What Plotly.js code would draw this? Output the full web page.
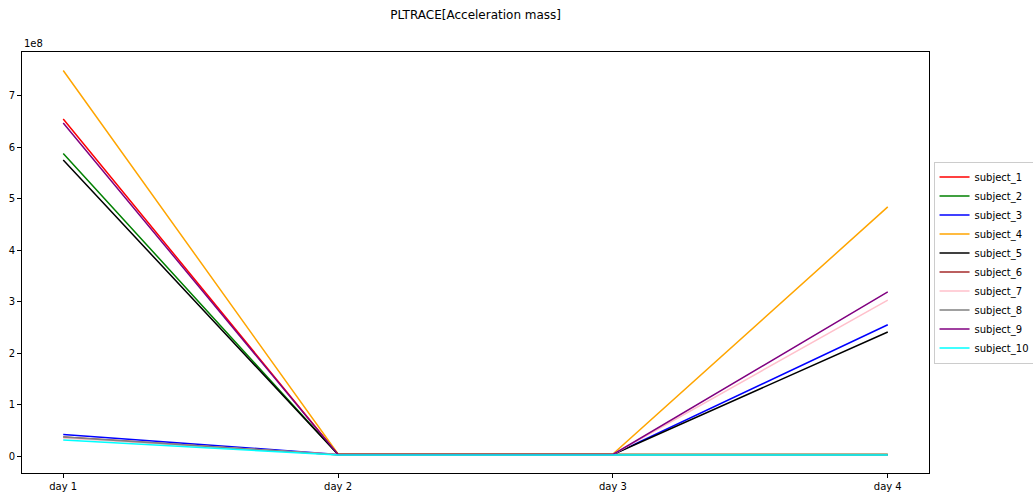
<!DOCTYPE html>
<html>
<head>
<meta charset="utf-8">
<script src="https://cdn.plot.ly/plotly-3.0.1.min.js"></script>
<style>html,body{margin:0;padding:0;background:#fff;}#chart{width:1033px;height:495px;}</style>
</head>
<body>
<div id="chart"></div>
<script>
const days = ["day 1", "day 2", "day 3", "day 4"];
const subjects = ["subject_1","subject_2","subject_3","subject_4","subject_5","subject_6","subject_7","subject_8","subject_9","subject_10"];
const subject_1  = [6.55e8, 0.03e8, 0.03e8, 0.03e8];
const subject_2  = [5.88e8, 0.03e8, 0.03e8, 0.03e8];
const subject_3  = [0.42e8, 0.03e8, 0.03e8, 2.55e8];
const subject_4  = [7.49e8, 0.04e8, 0.04e8, 4.84e8];
const subject_5  = [5.75e8, 0.03e8, 0.03e8, 2.41e8];
const subject_6  = [0.37e8, 0.025e8, 0.025e8, 0.025e8];
const subject_7  = [0.35e8, 0.03e8, 0.03e8, 3.03e8];
const subject_8  = [0.37e8, 0.025e8, 0.025e8, 0.025e8];
const subject_9  = [6.47e8, 0.03e8, 0.03e8, 3.19e8];
const subject_10 = [0.31e8, 0.02e8, 0.02e8, 0.02e8];
const series = [subject_1,subject_2,subject_3,subject_4,subject_5,subject_6,subject_7,subject_8,subject_9,subject_10];
const colors = ["#ff0000","#008000","#0000ff","#ffa500","#000000","#a52a2a","#ffc0cb","#808080","#800080","#00ffff"];
const yTickVals = [0,1e8,2e8,3e8,4e8,5e8,6e8,7e8];
const yTickText = ["0","1","2","3","4","5","6","7"];

const traces = series.map((vals, i) => ({
  type: "scatter", mode: "lines", x: days, y: vals, name: subjects[i],
  line: {color: colors[i], width: 1.5}
}));

const layout = {
  width: 1033, height: 495,
  margin: {l: 22, r: 104, t: 52, b: 22, autoexpand: false},
  paper_bgcolor: "#fff", plot_bgcolor: "#fff",
  font: {family: "DejaVu Sans", size: 10, color: "#000"},
  title: {text: "PLTRACE[Acceleration mass]", font: {size: 12, color: "#000"}, x: 0.4605, xanchor: "center", y: 0.97, yanchor: "middle"},
  xaxis: {type: "category", range: [-0.15, 3.15], showgrid: false, zeroline: false,
    showline: true, mirror: true, linecolor: "#000", linewidth: 1,
    ticks: "outside", ticklen: 4, tickcolor: "#000", tickfont: {size: 10}},
  yaxis: {range: [-0.33e8, 7.85e8], showgrid: false, zeroline: false,
    showline: true, mirror: true, linecolor: "#000", linewidth: 1,
    ticks: "outside", ticklen: 4, tickcolor: "#000",
    tickvals: yTickVals, ticktext: yTickText, tickfont: {size: 10}},
  showlegend: true,
  legend: {x: 1.005, xanchor: "left", y: 0.5, yanchor: "middle",
    bordercolor: "#cccccc", borderwidth: 1, bgcolor: "#fff",
    font: {size: 10}, tracegroupgap: 0, itemwidth: 30},
  annotations: [{text: "1e8", xref: "paper", yref: "paper", x: 0, y: 1, xanchor: "left", yanchor: "bottom", yshift: 1, showarrow: false, font: {size: 10}}]
};

Plotly.newPlot("chart", traces, layout, {displayModeBar: false, staticPlot: true});
</script>
</body>
</html>
